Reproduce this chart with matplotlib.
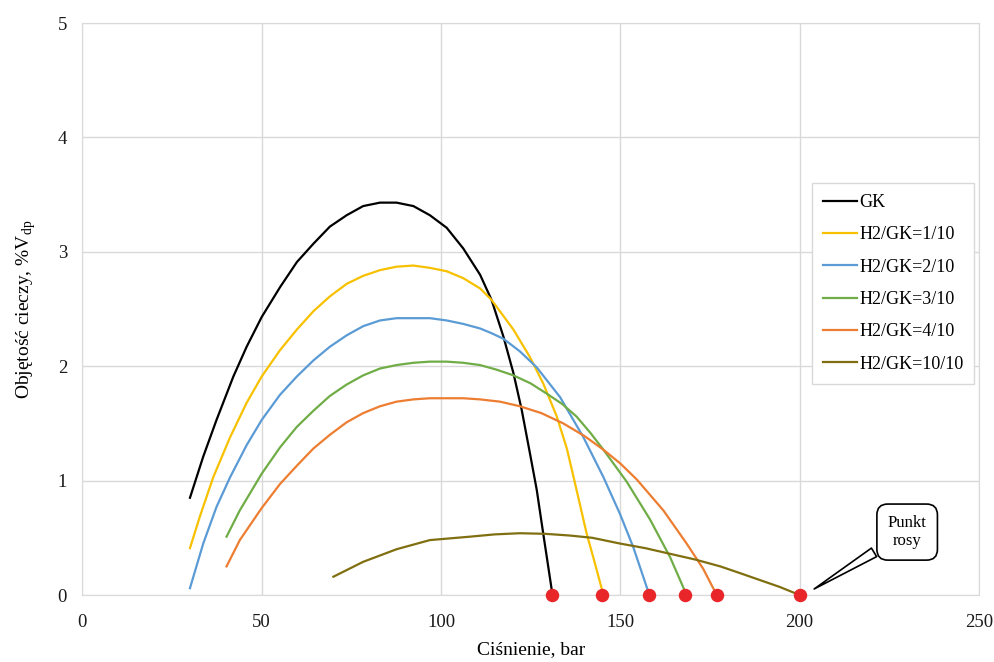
import matplotlib.pyplot as plt

plt.rcParams['font.family'] = ['Liberation Serif', 'DejaVu Serif']
plt.rcParams['mathtext.fontset'] = 'custom'
plt.rcParams['mathtext.rm'] = 'Liberation Serif'

# data (pressure in bar, liquid volume in %)
gk_x = [30.0, 33.7, 37.4, 42.1, 45.8, 50.0, 55.1, 59.8, 64.4, 69.0, 73.7, 78.3, 83.0, 87.6, 92.3,
        96.9, 101.6, 106.2, 110.9, 114.1, 117.4, 120.2, 122.5, 124.8, 126.7, 128.5, 129.9, 131.1]
gk_y = [0.85, 1.21, 1.53, 1.91, 2.17, 2.43, 2.69, 2.91, 3.07, 3.22, 3.32, 3.40, 3.43, 3.43, 3.40,
        3.32, 3.21, 3.03, 2.80, 2.58, 2.26, 1.94, 1.62, 1.24, 0.92, 0.54, 0.25, 0.0]

h1_x = [30.0, 32.8, 36.5, 41.2, 45.8, 50.0, 55.1, 59.8, 64.4, 69.0, 73.7, 78.3, 83.0, 87.6, 92.3,
        96.9, 101.6, 106.2, 110.9, 114.1, 120.2, 124.8, 128.5, 132.3, 135.1, 137.8, 140.6, 142.9, 145.3]
h1_y = [0.41, 0.69, 1.03, 1.38, 1.68, 1.91, 2.14, 2.32, 2.48, 2.61, 2.72, 2.79, 2.84, 2.87, 2.88,
        2.86, 2.83, 2.77, 2.68, 2.58, 2.32, 2.08, 1.85, 1.56, 1.28, 0.92, 0.54, 0.28, 0.0]

h2_x = [30.0, 33.7, 37.4, 41.2, 45.8, 50.0, 55.1, 59.8, 64.4, 69.0, 73.7, 78.3, 83.0, 87.6, 92.3,
        96.9, 101.6, 106.2, 110.9, 114.0, 117.4, 122.0, 126.7, 133.2, 139.7, 145.3, 149.9, 153.6, 156.4, 158.1]
h2_y = [0.06, 0.45, 0.77, 1.03, 1.31, 1.53, 1.75, 1.91, 2.05, 2.17, 2.27, 2.35, 2.40, 2.42, 2.42,
        2.42, 2.40, 2.37, 2.33, 2.29, 2.24, 2.13, 1.99, 1.73, 1.38, 1.03, 0.71, 0.42, 0.16, 0.0]

h3_x = [40.2, 43.9, 50.0, 55.1, 59.8, 64.4, 69.0, 73.7, 78.3, 83.0, 87.6, 92.3, 96.9, 101.6,
        106.2, 110.9, 115.5, 120.2, 125.0, 129.5, 133.8, 137.8, 141.6, 145.3, 151.8, 158.3, 163.9, 168.5]
h3_y = [0.51, 0.74, 1.06, 1.29, 1.47, 1.61, 1.74, 1.84, 1.92, 1.98, 2.01, 2.03, 2.04, 2.04,
        2.03, 2.01, 1.97, 1.92, 1.85, 1.76, 1.67, 1.56, 1.42, 1.27, 0.99, 0.66, 0.33, 0.0]

h4_x = [40.2, 43.9, 50.0, 55.1, 59.8, 64.4, 69.0, 73.7, 78.3, 83.0, 87.6, 92.3, 96.9, 101.6,
        106.2, 110.9, 116.5, 122.0, 128.0, 134.1, 140.0, 145.3, 150.0, 154.6, 162.0, 168.5, 173.1, 176.9]
h4_y = [0.25, 0.48, 0.76, 0.97, 1.13, 1.28, 1.40, 1.51, 1.59, 1.65, 1.69, 1.71, 1.72, 1.72,
        1.72, 1.71, 1.69, 1.65, 1.59, 1.50, 1.39, 1.27, 1.15, 1.01, 0.74, 0.45, 0.23, 0.0]

h10_x = [70.0, 78.3, 87.6, 96.9, 108.1, 115.0, 122.0, 129.0, 135.9, 142.2, 149.9, 156.9, 163.9,
         170.9, 177.9, 183.5, 189.0, 194.5, 200.0]
h10_y = [0.16, 0.29, 0.40, 0.48, 0.51, 0.53, 0.54, 0.535, 0.52, 0.50, 0.45, 0.41, 0.36,
         0.31, 0.25, 0.19, 0.13, 0.07, 0.0]

dew_x = [131, 145, 158, 168, 177, 200]
dew_y = [0, 0, 0, 0, 0, 0]

series = [
    ('GK', gk_x, gk_y, 'black'),
    ('H2/GK=1/10', h1_x, h1_y, '#f7c100'),
    ('H2/GK=2/10', h2_x, h2_y, '#5b9bd5'),
    ('H2/GK=3/10', h3_x, h3_y, '#70ad47'),
    ('H2/GK=4/10', h4_x, h4_y, '#ed7d31'),
    ('H2/GK=10/10', h10_x, h10_y, '#806f10'),
]

fig = plt.figure(figsize=(9.95, 6.62), dpi=100)
ax = fig.add_axes([0.0828, 0.1012, 0.901, 0.864])

for name, xs, ys, c in series:
    ax.plot(xs, ys, color=c, lw=1.6, label=name, zorder=3, solid_joinstyle='round')

ax.scatter(dew_x, dew_y, s=75, color='#e8262a', zorder=5, clip_on=False)

ax.set_xlim(0, 250)
ax.set_ylim(0, 5)
ax.set_xticks([0, 50, 100, 150, 200, 250])
ax.set_yticks([0, 1, 2, 3, 4, 5])
ax.grid(True, color='#d9d9d9', lw=1)
ax.set_axisbelow(True)
for s in ax.spines.values():
    s.set_color('#d9d9d9')
ax.tick_params(length=0, labelsize=13.5, colors='#1a1a1a')
ax.tick_params(axis='y', pad=11)
ax.tick_params(axis='x', pad=14)

ax.set_xlabel('Ciśnienie, bar', fontsize=14, labelpad=7)
ax.set_ylabel('Objętość cieczy, %V$_{\\mathregular{dp}}$', fontsize=14, labelpad=14)

leg = ax.legend(loc='upper left', bbox_to_anchor=(0.814, 0.72), borderaxespad=0,
                fontsize=13, handlelength=1.9, handletextpad=0.1, labelspacing=0.85,
                borderpad=0.6, fancybox=False, framealpha=1)
leg.get_frame().set_edgecolor('#d9d9d9')

# callout for dew point
ax.annotate('Punkt\nrosy', xy=(203.4, 0.04), xytext=(230, 0.55),
            ha='center', va='center', fontsize=12,
            bbox=dict(boxstyle='round,pad=0.65', fc='white', ec='black', lw=1.2),
            arrowprops=dict(arrowstyle='wedge,tail_width=0.6,shrink_factor=0.5',
                            fc='white', ec='black', lw=1.2))

plt.savefig('out.png', dpi=100)
